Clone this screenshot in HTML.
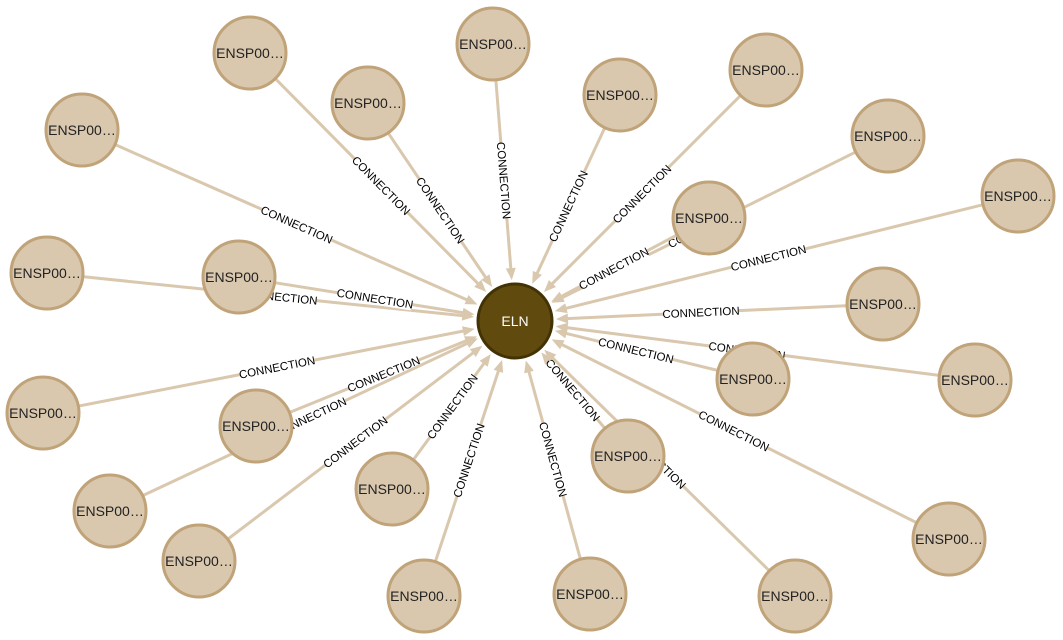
<!DOCTYPE html>
<html><head><meta charset="utf-8"><style>
html,body{margin:0;padding:0;background:#fff;}
svg{display:block;font-family:"Liberation Sans",Arial,sans-serif;}
</style></head><body>
<svg id="g" width="1063" height="640" viewBox="0 0 1063 640">
<g id="edges"></g>
<g id="nodes"></g>
</svg>
<script>
const centerLabel = "ELN";
const centerX = 515, centerY = 321;
const nodeX = [250,82,368,493,620,766,888,709,1018,47,239,883,43,753,975,256,110,392,628,199,949,424,590,795];
const nodeY = [53,130,103,44,95,70,136,218,196,273,277,304,413,379,380,426,511,489,456,561,539,596,594,596];
const nodeLabels = nodeX.map(()=> "ENSP00…");
const edgeLabel = "CONNECTION";
const NS="http://www.w3.org/2000/svg";
const eg=document.getElementById('edges'), ng=document.getElementById('nodes');
const R=37, RC=38;
function mk(t,a,p){const e=document.createElementNS(NS,t);for(const k in a)e.setAttribute(k,a[k]);p.appendChild(e);return e;}
for(let i=0;i<nodeX.length;i++){
  const x=nodeX[i],y=nodeY[i];
  const dx=centerX-x,dy=centerY-y,L=Math.hypot(dx,dy),ux=dx/L,uy=dy/L;
  const sx=x+ux*R, sy=y+uy*R, tx=centerX-ux*(RC+3), ty=centerY-uy*(RC+3);
  const g=mk('g',{},eg);
  
  
  mk('line',{x1:sx,y1:sy,x2:tx-ux*8,y2:ty-uy*8,stroke:'#d9c8ae','stroke-width':3},g);
  const px=-uy,py=ux;
  mk('polygon',{points:`${tx},${ty} ${tx-ux*12+px*5},${ty-uy*12+py*5} ${tx-ux*12-px*5},${ty-uy*12-py*5}`,fill:'#d9c8ae'},g);
  const mx=(sx+tx)/2,my=(sy+ty)/2;
  let ang=Math.atan2(dy,dx)*180/Math.PI;
  if(ang>90)ang-=180; if(ang<-90)ang+=180;
  const lg=mk('g',{transform:`translate(${mx},${my}) rotate(${ang})`},g);
  
  
  mk('rect',{x:-37,y:-7,width:74,height:13,fill:'#fff'},lg);
  const t=mk('text',{x:0,y:4,'text-anchor':'middle','font-size':11.5,fill:'#000'},lg);
  t.textContent=edgeLabel;
}
for(let i=0;i<nodeX.length;i++){
  const g=mk('g',{},ng);
  
  
  mk('circle',{cx:nodeX[i],cy:nodeY[i],r:36,fill:'#d9c8ae',stroke:'#c0a378','stroke-width':3},g);
  const t=mk('text',{x:nodeX[i],y:nodeY[i]+5,'text-anchor':'middle','font-size':14,fill:'#222'},g);
  t.textContent=nodeLabels[i];
}
const cg=mk('g',{},ng);


mk('circle',{cx:centerX,cy:centerY,r:37,fill:'#604a0e',stroke:'#423204','stroke-width':3},cg);
const ct=mk('text',{x:centerX,y:centerY+5,'text-anchor':'middle','font-size':14,fill:'#fff'},cg);
ct.textContent=centerLabel;
</script>
</body></html>
